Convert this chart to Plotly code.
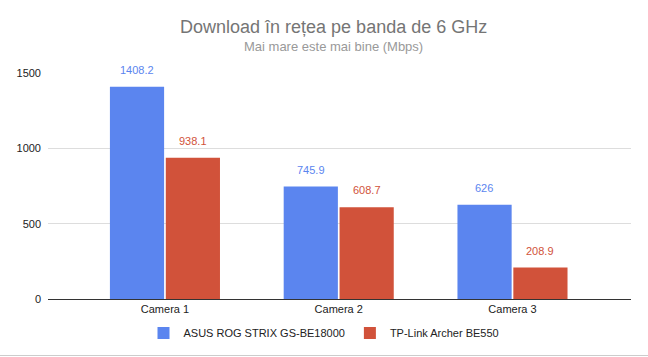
import plotly.graph_objects as go

categories = ["Camera 1", "Camera 2", "Camera 3"]
asus_values = [1408.2, 745.9, 626]
tplink_values = [938.1, 608.7, 208.9]
series_names = ["ASUS ROG STRIX GS-BE18000", "TP-Link Archer BE550"]
y_ticks = [0, 500, 1000, 1500]

title_text = "Download în rețea pe banda de 6 GHz"
subtitle_text = "Mai mare este mai bine (Mbps)"

BLUE = "#5b85ef"
RED = "#d1523a"
FONT = "Arial, Liberation Sans, sans-serif"

fig = go.Figure()
for name, vals, col in [(series_names[0], asus_values, BLUE), (series_names[1], tplink_values, RED)]:
    fig.add_trace(go.Bar(
        x=categories, y=vals, name=name,
        marker=dict(color=col, line=dict(width=0)),
    ))

# value labels
for vals, col, shift in [(asus_values, BLUE, -28), (tplink_values, RED, 28)]:
    for c, v in zip(categories, vals):
        fig.add_annotation(
            x=c, y=v, text=f"{v:g}", showarrow=False,
            xshift=shift, yshift=17, yanchor="middle",
            font=dict(family=FONT, size=11, color=col),
        )

fig.add_annotation(
    xref="paper", yref="paper", x=0.49, y=1, yshift=46, yanchor="middle",
    text=title_text, showarrow=False,
    font=dict(family=FONT, size=18, color="#757575"),
)
fig.add_annotation(
    xref="paper", yref="paper", x=0.49, y=1, yshift=27, yanchor="middle",
    text=subtitle_text, showarrow=False,
    font=dict(family=FONT, size=13, color="#999999"),
)

fig.update_layout(
    width=648, height=357,
    margin=dict(l=48, r=17, t=73, b=58, autoexpand=False),
    paper_bgcolor="white", plot_bgcolor="white",
    barmode="group", bargap=0.357, bargroupgap=0.03,
    font=dict(family=FONT, size=11, color="#444444"),
    showlegend=True,
    legend=dict(
        orientation="h", xref="container", x=0.5, xanchor="center",
        yref="container", y=24 / 357, yanchor="middle",
        font=dict(family=FONT, size=11, color="#222222"),
        itemwidth=30, traceorder="normal",
    ),
    xaxis=dict(
        range=[-0.673, 2.682], showgrid=False, showline=False, ticks="",
        tickfont=dict(family=FONT, size=11, color="#222222"),
        ticklabelstandoff=2,
        fixedrange=True,
    ),
    yaxis=dict(
        range=[0, 1500], tickvals=y_ticks, showgrid=True, gridcolor="#dddddd",
        gridwidth=1, zeroline=True, zerolinecolor="#333333", zerolinewidth=1,
        ticks="", ticklabelstandoff=6,
        tickfont=dict(family=FONT, size=11, color="#222222"),
    ),
)
fig.add_shape(type="line", xref="paper", yref="paper", x0=-0.1, x1=1.1,
              y0=-56.5 / 226, y1=-56.5 / 226, line=dict(color="#cccccc", width=1))

fig.write_html("out.html", config={"displayModeBar": False},
               post_script="document.body.style.margin='0';")
